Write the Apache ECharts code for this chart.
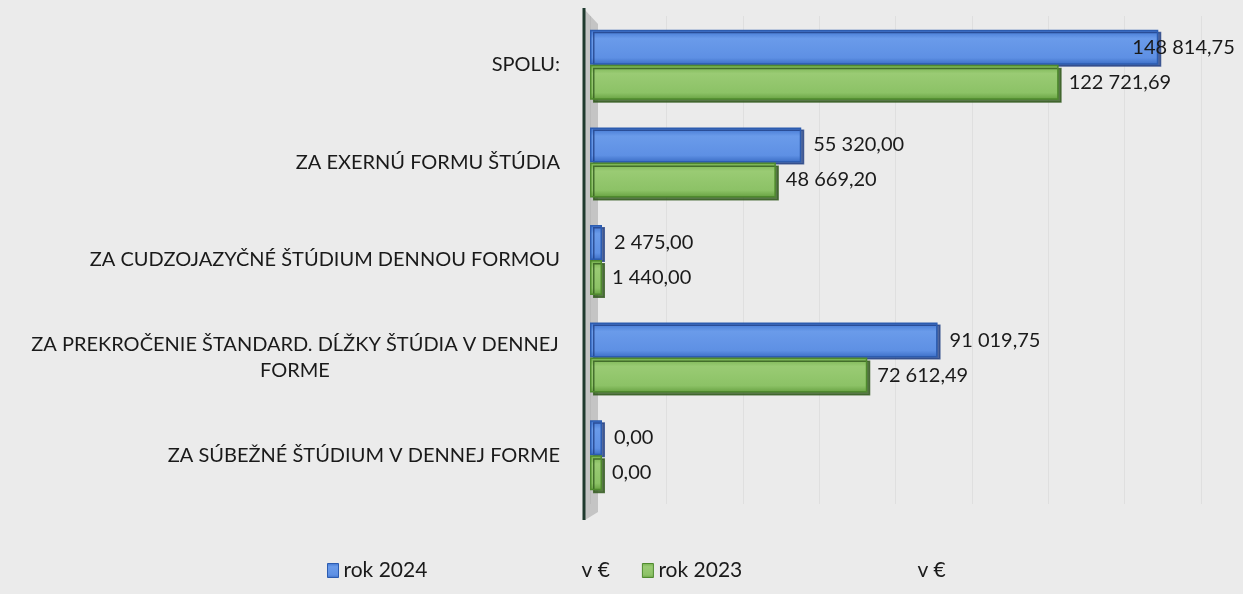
<!DOCTYPE html>
<html>
<head>
<meta charset="utf-8">
<script src="https://cdn.jsdelivr.net/npm/echarts@6/dist/echarts.min.js"></script>
<style>
  html, body { margin: 0; padding: 0; background: #ebebeb; }
  #chart { width: 1243px; height: 594px; }
</style>
</head>
<body>
<div id="chart"></div>
<script>
// kategórie (zdola nahor, ako v Exceli)
const categories = [
  "ZA SÚBEŽNÉ ŠTÚDIUM V DENNEJ FORME",
  "ZA PREKROČENIE ŠTANDARD. DĹŽKY ŠTÚDIA V DENNEJ\nFORME",
  "ZA CUDZOJAZYČNÉ ŠTÚDIUM DENNOU FORMOU",
  "ZA EXERNÚ FORMU ŠTÚDIA",
  "SPOLU:"
];
const rok2024 = [0, 91019.75, 2475.0, 55320.0, 148814.75];
const rok2023 = [0, 72612.49, 1440.0, 48669.2, 122721.69];
const seriesNames = ["rok 2024", "rok 2023"];
const unitText = "v €";

const FONT = "Lato";
const FS = 20;

// 148 814,75 format
function fmt(v) {
  const parts = v.toFixed(2).split(".");
  const intPart = parts[0].replace(/\B(?=(\d{3})+(?!\d))/g, " ");
  return intPart + "," + parts[1];
}

const chart = echarts.init(document.getElementById("chart"));

const blueFill = new echarts.graphic.LinearGradient(0, 0, 0, 1, [
  { offset: 0, color: "#3f74d0" },
  { offset: 0.25, color: "#6a9bea" },
  { offset: 0.8, color: "#5e90e4" },
  { offset: 1, color: "#3a6cc4" }
]);
const greenFill = new echarts.graphic.LinearGradient(0, 0, 0, 1, [
  { offset: 0, color: "#74b04c" },
  { offset: 0.25, color: "#9acb74" },
  { offset: 0.8, color: "#8cc266" },
  { offset: 1, color: "#66a040" }
]);

const maxVal = Math.max(...rok2024, ...rok2023);
function makeData(arr) {
  return arr.map(v => {
    const item = { value: v };
    // najdlhší stĺpec: popis zasahuje do stĺpca
    if (v === maxVal) {
      item.label = { offset: [-38, 0] };
    }
    return item;
  });
}

const option = {
  backgroundColor: "#ebebeb",
  textStyle: { fontFamily: FONT },
  grid: { left: 590, right: 42, top: 16, bottom: 90 },
  graphic: [
    {
      // sivá bočná stena 3D grafu
      type: "polygon",
      z: -1,
      shape: { points: [[585, 10], [598, 24], [598, 512], [585, 520]] },
      style: { fill: "#c4c4c4" }
    },
    {
      type: "line",
      z: 10,
      shape: { x1: 584, y1: 8, x2: 584, y2: 520 },
      style: { stroke: "#1f3a2e", lineWidth: 3 }
    }
  ],
  legend: {
    left: 322,
    top: 555,
    icon: "rect",
    itemWidth: 11,
    itemHeight: 14,
    itemGap: 32,
    data: seriesNames,
    itemStyle: { borderWidth: 1 },
    textStyle: {
      fontFamily: FONT,
      fontSize: 21,
      color: "#1a1a1a",
      rich: {
        n0: { width: 238, fontSize: 21, fontFamily: FONT, color: "#1a1a1a" },
        n1: { width: 259, fontSize: 21, fontFamily: FONT, color: "#1a1a1a" },
        u: { fontSize: 21, fontFamily: FONT, color: "#1a1a1a" }
      }
    },
    formatter: name => "{n" + seriesNames.indexOf(name) + "|" + name + "}{u|" + unitText + "}"
  },
  xAxis: {
    type: "value",
    min: 0,
    max: 160000,
    interval: 20000,
    axisLabel: { show: false },
    axisLine: { show: false },
    axisTick: { show: false },
    splitLine: { show: true, lineStyle: { color: "rgba(0,0,0,0.05)", width: 1 } }
  },
  yAxis: {
    type: "category",
    data: categories,
    axisLine: { show: false },
    axisTick: { show: false },
    axisLabel: {
      margin: 30,
      fontFamily: FONT,
      fontSize: FS,
      color: "#1a1a1a",
      lineHeight: 26,
      formatter: v => {
        if (v.indexOf("\n") < 0) return v;
        return v.split("\n").map(s => "{c|" + s + "}").join("\n");
      },
      rich: {
        c: { width: 530, align: "center", fontSize: FS, fontFamily: FONT, color: "#1a1a1a", lineHeight: 26 }
      }
    }
  },
  series: [
    {
      name: seriesNames[0],
      type: "bar",
      data: makeData(rok2024),
      barWidth: 35,
      barGap: "0%",
      barMinHeight: 12,
      itemStyle: {
        color: blueFill,
        borderColor: "#2c5cb0",
        borderWidth: 1.5,
        shadowColor: "rgba(30,60,130,0.75)",
        shadowOffsetX: 3,
        shadowOffsetY: 2
      },
      label: {
        show: true,
        position: "right",
        distance: 12,
        fontFamily: FONT,
        fontSize: FS,
        color: "#1a1a1a",
        formatter: p => fmt(p.value)
      }
    },
    {
      name: seriesNames[1],
      type: "bar",
      data: makeData(rok2023),
      barWidth: 35,
      barGap: "0%",
      barMinHeight: 12,
      itemStyle: {
        color: greenFill,
        borderColor: "#4f8a2e",
        borderWidth: 1.5,
        shadowColor: "rgba(50,90,30,0.8)",
        shadowOffsetX: 3,
        shadowOffsetY: 3
      },
      label: {
        show: true,
        position: "right",
        distance: 10,
        fontFamily: FONT,
        fontSize: FS,
        color: "#1a1a1a",
        formatter: p => fmt(p.value)
      }
    }
  ]
};

chart.setOption(option);
</script>
</body>
</html>
